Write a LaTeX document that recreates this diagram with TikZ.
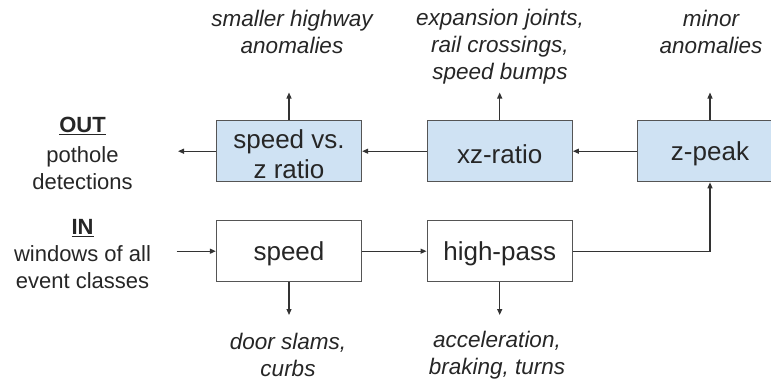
\documentclass[tikz,border=0pt]{standalone}
\usepackage{fontspec}
\setmainfont{Liberation Sans}
\usetikzlibrary{arrows.meta}
\definecolor{lblue}{HTML}{CFE2F3}
\definecolor{boxline}{HTML}{555555}
\definecolor{txt}{HTML}{262626}
\definecolor{conncol}{HTML}{333333}
\begin{document}
\begin{tikzpicture}[x=1pt,y=-1pt,
  box/.style={draw=boxline, line width=1.3pt, minimum width=145pt, minimum height=61pt, inner sep=0pt},
  hot/.style={box, fill=lblue},
  boxtext/.style={font=\fontsize{26}{30}\selectfont, text=txt, align=center, inner sep=0pt, yshift=-3pt},
  note/.style={font=\fontsize{22.5}{27}\selectfont\itshape, text=txt, align=center, inner sep=0pt},
  side/.style={font=\fontsize{22}{27}\selectfont, text=txt, align=center, inner sep=0pt},
  conn/.style={draw=conncol, line width=1.2pt, -{Triangle[length=6pt,width=5pt]}}]
\useasboundingbox (0,0) rectangle (771,388);
\clip (0,0) rectangle (771,388);

% boxes
\node[hot, label={[boxtext]center:speed vs.\\z ratio}] (svz) at (289,151.2) {};
\node[hot, label={[boxtext]center:xz-ratio}] (xz) at (499.7,151.2) {};
\node[hot, label={[boxtext]center:z-peak}] (zp) at (710,151.2) {};
\node[box, label={[boxtext]center:speed}] (sp) at (289,251.2) {};
\node[box, label={[boxtext]center:high-pass}] (hp) at (499.7,251.2) {};

% annotations
\node[note] (n1) at (292,31.5) {smaller highway\\anomalies};
\node[note] (n2) at (500,46.5) {expansion joints,\\rail crossings,\\speed bumps};
\node[note] (n3) at (711,31.5) {minor\\anomalies};
\node[note] (n4) at (288,355) {door slams,\\curbs};
\node[note] (n5) at (497,355) {acceleration,\\braking, turns};

% side labels
\node[side, font=\fontsize{22}{27}\selectfont\bfseries] (outt) at (82.5,126) {\underline{OUT}};
\node[side] (outx) at (82.5,168.5) {pothole\\detections};
\node[side, font=\fontsize{22}{27}\selectfont\bfseries] (int) at (82.5,228) {\underline{IN}};
\node[side] (inx) at (82.5,267.5) {windows of all\\event classes};

% connector end points
\coordinate (u1) at (289,92.5);
\coordinate (u2) at (499.7,92.5);
\coordinate (u3) at (710,92.5);
\coordinate (d1) at (289,315);
\coordinate (d2) at (499.7,315);
\coordinate (oute) at (178,151.2);
\coordinate (ins) at (176.7,251.2);

% connectors
\draw[conn] (zp.west) -- (xz.east);
\draw[conn] (xz.west) -- (svz.east);
\draw[conn] (svz.west) -- (oute);
\draw[conn] (ins) -- (sp.west);
\draw[conn] (sp.east) -- (hp.west);
\draw[conn] (hp.east) -| (zp.south);
\draw[conn] (svz.north) -- (u1);
\draw[conn] (xz.north) -- (u2);
\draw[conn] (zp.north) -- (u3);
\draw[conn] (sp.south) -- (d1);
\draw[conn] (hp.south) -- (d2);
\end{tikzpicture}
\end{document}
